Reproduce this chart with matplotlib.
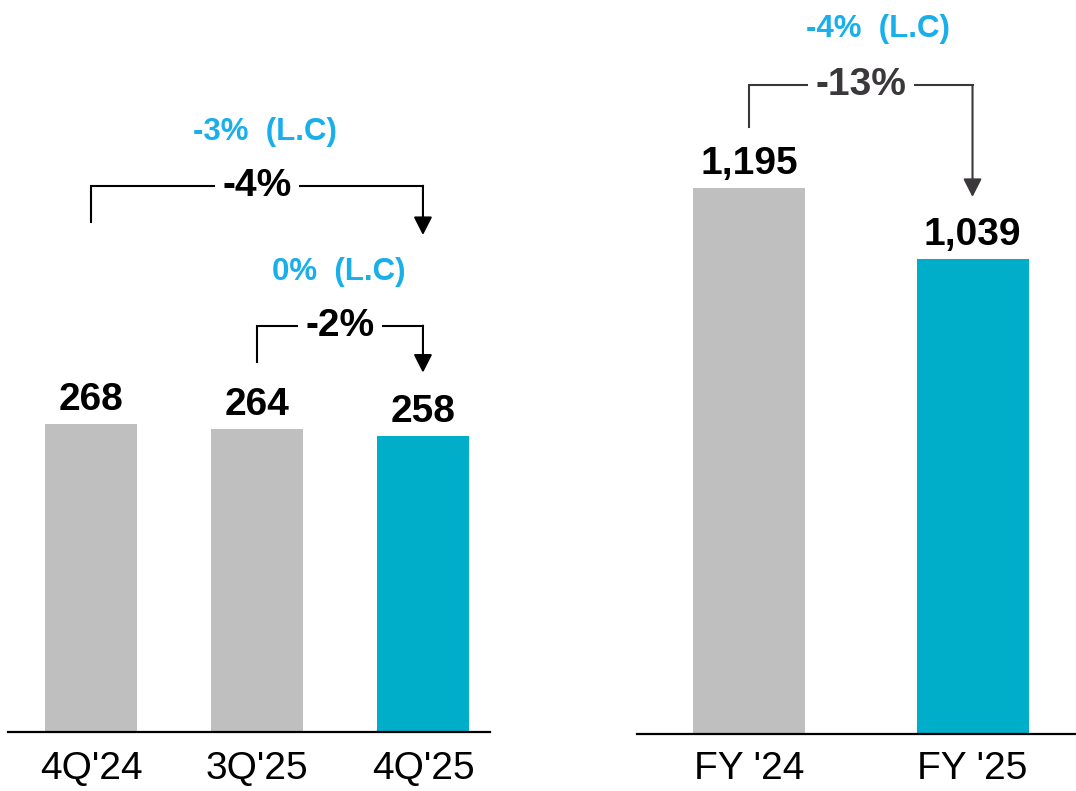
import matplotlib.pyplot as plt
import numpy as np

plt.rcParams['font.family'] = ['Liberation Sans', 'DejaVu Sans']

# data
q_labels = ["4Q'24", "3Q'25", "4Q'25"]
q_values = [268, 264, 258]
fy_labels = ["FY '24", "FY '25"]
fy_values = [1195, 1039]

q_changes = ["-4%", "-2%"]
q_changes_lc = ["-3%  (L.C)", "0%  (L.C)"]
fy_change = "-13%"
fy_change_lc = "-4%  (L.C)"

gray = '#BEBFBE'
teal = '#00AECA'
blue_txt = '#18AFEA'
dark = '#3B383C'

fig = plt.figure(figsize=(10.76, 7.91), dpi=100)
ax1 = fig.add_axes([8/1076, 59.5/791, 482/1076, 731.5/791])
ax2 = fig.add_axes([637/1076, 57/791, 439/1076, 734/791])


def style_axis(ax, labels, pad):
    for s in ['top', 'right', 'left']:
        ax.spines[s].set_visible(False)
    ax.spines['bottom'].set_linewidth(1.6)
    ax.set_yticks([])
    ax.set_xticks(np.arange(len(labels)))
    ax.set_xticklabels(labels, fontsize=28)
    ax.tick_params(axis='x', length=0, pad=pad)


def bracket(ax, x0, x1, y_start, y_top, y_tip, label, color, fs, lc_label, lc_xy):
    ax.plot([x0, x0, x1], [y_start, y_top, y_top], color=color, lw=1.5,
            solid_joinstyle='miter', zorder=2)
    ax.annotate('', xy=(x1, y_tip), xytext=(x1, y_top),
                arrowprops=dict(arrowstyle='-|>,head_length=0.55,head_width=0.28',
                                mutation_scale=20, color=color, lw=1.5,
                                shrinkA=0, shrinkB=0))
    ax.text((x0 + x1) / 2, y_top, label, ha='center', va='center', fontsize=fs,
            fontweight='bold', color=color, zorder=3,
            bbox=dict(boxstyle='square,pad=0.2', fc='white', ec='none'))
    ax.text(lc_xy[0], lc_xy[1], lc_label, ha='center', va='center', fontsize=22.5,
            fontweight='bold', color=blue_txt)


# left panel: quarters
x1 = np.arange(len(q_labels))
b1 = ax1.bar(x1, q_values, width=0.554, color=[gray, gray, teal])
for xi, v in zip(x1, q_values):
    ax1.annotate(f'{v:,}', (xi, v), xytext=(0, 10), textcoords='offset points',
                 ha='center', va='baseline', fontsize=28, fontweight='bold')
ax1.set_xlim(-0.5, 2.404)
ax1.set_ylim(0, 638)
style_axis(ax1, q_labels, 14)

bracket(ax1, 0, 2, 444, 476, 433, q_changes[0], 'black', 28, q_changes_lc[0], (1.05, 523))
bracket(ax1, 1, 2, 322, 354, 313, q_changes[1], 'black', 28, q_changes_lc[1], (1.49, 401))

# right panel: full year
x2 = np.arange(len(fy_labels))
b2 = ax2.bar(x2, fy_values, width=0.501, color=[gray, teal])
for xi, v in zip(x2, fy_values):
    ax2.annotate(f'{v:,}', (xi, v), xytext=(0, 10), textcoords='offset points',
                 ha='center', va='baseline', fontsize=28, fontweight='bold')
ax2.set_xlim(-0.501, 1.463)
ax2.set_ylim(0, 1606)
style_axis(ax2, fy_labels, 12)

bracket(ax2, 0, 1, 1328, 1420, 1175, fy_change, dark, 28, fy_change_lc, (0.579, 1543))

fig.savefig('out.png', dpi=100, facecolor='white')
